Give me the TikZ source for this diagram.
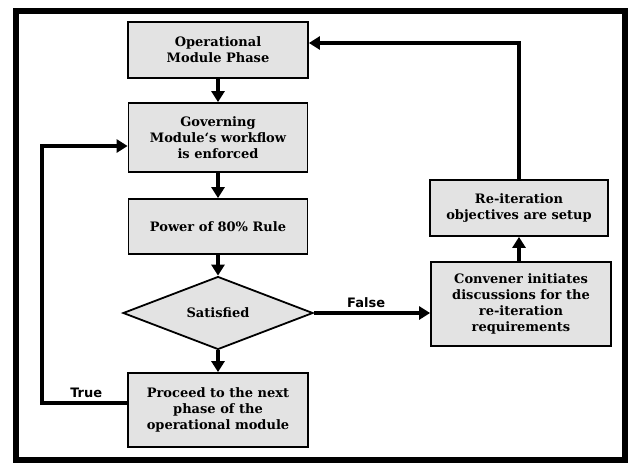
\documentclass[tikz,border=0pt]{standalone}
\usepackage{fontspec}
\setmainfont{DejaVu Serif}
\newfontfamily\lblfont{DejaVu Sans}
\usetikzlibrary{arrows.meta,shapes.geometric,positioning}
\definecolor{boxgray}{HTML}{E3E3E3}
\tikzset{
  x=1pt,y=-1pt,
  procbox/.style={draw=black,line width=1.8pt,fill=boxgray,inner sep=2pt,align=center,
    font=\fontsize{13}{16}\selectfont\bfseries},
  decbox/.style={draw=black,line width=1.8pt,fill=boxgray,shape=diamond,inner sep=0pt,
    font=\fontsize{13}{16}\selectfont\bfseries},
  flow/.style={line width=3.6pt,-{Triangle[length=11pt,width=13pt]}},
  lbl/.style={font=\lblfont\fontsize{13}{14}\selectfont\bfseries,inner sep=1pt}
}
\begin{document}
\begin{tikzpicture}
\useasboundingbox (0,0) rectangle (632,464);
\draw[line width=6pt] (16,11) rectangle (625,460);
\node[procbox,minimum width=180,minimum height=56] (b1) at (218,50) {Operational\\Module Phase};
\node[procbox,minimum width=179,minimum height=69] (b2) at (218,137.5) {Governing\\Module{\char"60}s workflow\\is enforced};
\node[procbox,minimum width=179,minimum height=55] (b3) at (218,226.5) {Power of 80\% Rule};
\node[decbox,minimum width=190,minimum height=63] (d) at (218,313) {Satisfied};
\node[procbox,minimum width=180,minimum height=74] (b5) at (218,410) {Proceed to the next\\phase of the\\operational module};
\node[procbox,minimum width=180,minimum height=84] (cv) at (521,304) {Convener initiates\\discussions for the\\re-iteration\\requirements};
\node[procbox,minimum width=178,minimum height=56] (ri) at (519,208) {Re-iteration\\objectives are setup};
\coordinate (c1) at (519,43);
\coordinate (t1) at (42,403);
\coordinate (t2) at (42,146);
\draw[flow] (b1.south) -- (b2.north);
\draw[flow] (b2.south) -- (b3.north);
\draw[flow] (b3.south) -- (d.north);
\draw[flow] (d.south) -- (b5.north);
\draw[flow] (d.east) -- node[lbl,above=3pt,pos=0.45] (fl) {False} (cv.west |- d.east);
\draw[flow] (cv.north -| ri.south) -- (ri.south);
\draw[flow] (ri.north) -- (c1) -- (b1.east |- c1);
\draw[flow] (b5.west |- t1) -- node[lbl,above=3pt,pos=0.48] (tl) {True} (t1) -- (t2) -- (b2.west |- t2);
\end{tikzpicture}
\end{document}
